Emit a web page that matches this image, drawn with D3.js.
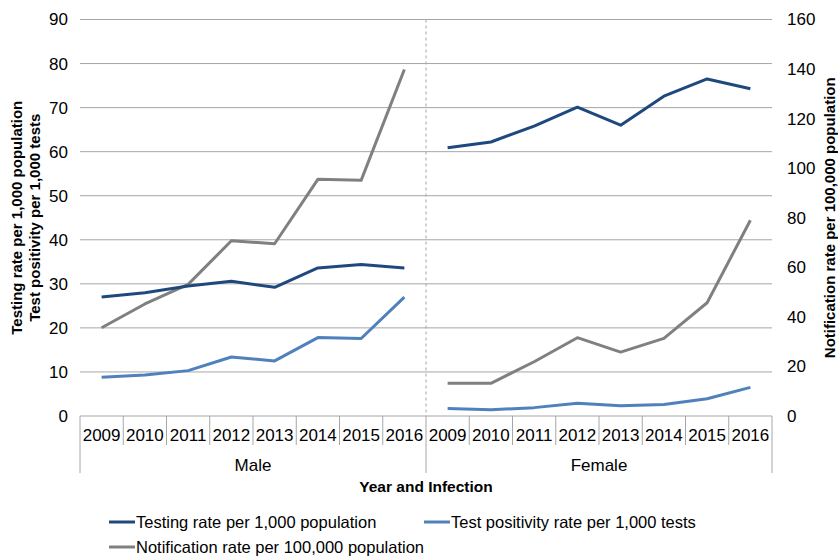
<!DOCTYPE html>
<html>
<head>
<meta charset="utf-8">
<script src="https://cdn.jsdelivr.net/npm/d3@7"></script>
<style>
  body { margin: 0; background: #fff; }
  text { font-family: "Liberation Sans", Arial, sans-serif; fill: #000; }
</style>
</head>
<body>
<div id="chart"></div>
<script>
// Dimensions
const width = 838;
const height = 558;
const margin = { top: 19.5, right: 66, bottom: 142, left: 80 };
const plotW = width - margin.left - margin.right;
const plotH = height - margin.top - margin.bottom;

// Données
const groups = ["Male", "Female"];
const years = ["2009", "2010", "2011", "2012", "2013", "2014", "2015", "2016"];
const leftTicks = [0, 10, 20, 30, 40, 50, 60, 70, 80, 90];
const rightTicks = [0, 20, 40, 60, 80, 100, 120, 140, 160];

// Taux de dépistage pour 1 000 habitants (axe gauche)
const testingMale = [27.0, 28.0, 29.5, 30.6, 29.2, 33.6, 34.4, 33.6];
const testingFemale = [60.9, 62.2, 65.8, 70.1, 66.0, 72.6, 76.5, 74.3];
// Taux de positivité pour 1 000 tests (axe gauche)
const positivityMale = [8.8, 9.3, 10.3, 13.4, 12.5, 17.8, 17.6, 27.0];
const positivityFemale = [1.7, 1.4, 1.9, 2.9, 2.3, 2.6, 3.9, 6.5];
// Taux de notification pour 100 000 habitants (axe droit)
const notificationMale = [35.6, 45.2, 53.1, 70.7, 69.5, 95.5, 95.1, 139.8];
const notificationFemale = [13.2, 13.2, 21.9, 31.6, 25.8, 31.3, 45.7, 79.0];

const seriesNames = [
  "Testing rate per 1,000 population",
  "Test positivity rate per 1,000 tests",
  "Notification rate per 100,000 population"
];
const colors = ["#1F497D", "#4F81BD", "#808080"];

// Catégories combinées (année + groupe)
const categories = [];
groups.forEach(g => years.forEach(y => categories.push(g + "|" + y)));

const svg = d3.select("#chart")
  .append("svg")
  .attr("width", width)
  .attr("height", height);

const g = svg.append("g")
  .attr("transform", `translate(${margin.left},${margin.top})`);

// Échelles
const x = d3.scaleBand().domain(categories).range([0, plotW]);
const yLeft = d3.scaleLinear().domain([0, 90]).range([plotH, 0]);
const yRight = d3.scaleLinear().domain([0, 160]).range([plotH, 0]);

// Quadrillage
g.append("g")
  .selectAll("line")
  .data(leftTicks.slice(1))
  .enter().append("line")
  .attr("x1", 0)
  .attr("x2", plotW)
  .attr("y1", d => yLeft(d))
  .attr("y2", d => yLeft(d))
  .attr("stroke", "#a6a6a6")
  .attr("stroke-width", 1);

// Séparateur pointillé entre les groupes
g.append("line")
  .attr("x1", x(categories[8]))
  .attr("x2", x(categories[8]))
  .attr("y1", 0)
  .attr("y2", plotH)
  .attr("stroke", "#a6a6a6")
  .attr("stroke-dasharray", "3,3");

// Axe gauche
const leftAxis = g.append("g")
  .call(d3.axisLeft(yLeft).tickValues(leftTicks).tickSize(0).tickPadding(12));
leftAxis.select(".domain").remove();
leftAxis.selectAll("text").attr("font-size", "17px").attr("fill", "#000");

// Axe droit
const rightAxis = g.append("g")
  .attr("transform", `translate(${plotW},0)`)
  .call(d3.axisRight(yRight).tickValues(rightTicks).tickSize(0).tickPadding(15));
rightAxis.select(".domain").remove();
rightAxis.selectAll("text").attr("font-size", "17px").attr("fill", "#000");

// Axe des catégories
g.append("line")
  .attr("x1", 0).attr("x2", plotW)
  .attr("y1", plotH).attr("y2", plotH)
  .attr("stroke", "#a6a6a6");

const tickPos = d3.range(categories.length + 1).map(i => i * x.bandwidth());
g.append("g")
  .selectAll("line")
  .data(tickPos)
  .enter().append("line")
  .attr("x1", d => d).attr("x2", d => d)
  .attr("y1", plotH)
  .attr("y2", (d, i) => (i % 8 === 0) ? plotH + 57 : plotH + 29)
  .attr("stroke", "#a6a6a6");

g.append("g")
  .selectAll("text")
  .data(categories)
  .enter().append("text")
  .attr("x", d => x(d) + x.bandwidth() / 2)
  .attr("y", plotH + 25)
  .attr("text-anchor", "middle")
  .attr("font-size", "17px")
  .text(d => d.split("|")[1]);

g.append("g")
  .selectAll("text")
  .data(groups)
  .enter().append("text")
  .attr("x", (d, i) => x(d + "|" + years[0]) + x.bandwidth() * years.length / 2)
  .attr("y", plotH + 55)
  .attr("text-anchor", "middle")
  .attr("font-size", "17px")
  .text(d => d);

// Titre de l'axe X
svg.append("text")
  .attr("x", margin.left + plotW / 2)
  .attr("y", 492)
  .attr("text-anchor", "middle")
  .attr("font-size", "15.5px")
  .attr("font-weight", "bold")
  .text("Year and Infection");

// Titres des axes Y
const midY = margin.top + plotH / 2;
const leftTitle = svg.append("text")
  .attr("transform", `translate(22,${midY}) rotate(-90)`)
  .attr("text-anchor", "middle")
  .attr("font-size", "15px")
  .attr("font-weight", "bold");
leftTitle.append("tspan").attr("x", 0).attr("dy", 0).text("Testing rate per 1,000 population");
leftTitle.append("tspan").attr("x", 0).attr("dy", 18).text("Test positivity per 1,000 tests");

svg.append("text")
  .attr("transform", `translate(835,${midY}) rotate(-90)`)
  .attr("text-anchor", "middle")
  .attr("font-size", "15px")
  .attr("font-weight", "bold")
  .text("Notification rate per 100,000 population");

// Lignes (une par groupe, interrompues entre Male et Female)
const lineLeft = d3.line()
  .x(d => x(d.key) + x.bandwidth() / 2)
  .y(d => yLeft(d.v));
const lineRight = d3.line()
  .x(d => x(d.key) + x.bandwidth() / 2)
  .y(d => yRight(d.v));

const toPoints = (group, values) => values.map((v, i) => ({ key: group + "|" + years[i], v }));

const lines = [
  { s: 2, gen: lineRight, pts: toPoints("Male", notificationMale) },
  { s: 2, gen: lineRight, pts: toPoints("Female", notificationFemale) },
  { s: 1, gen: lineLeft, pts: toPoints("Male", positivityMale) },
  { s: 1, gen: lineLeft, pts: toPoints("Female", positivityFemale) },
  { s: 0, gen: lineLeft, pts: toPoints("Male", testingMale) },
  { s: 0, gen: lineLeft, pts: toPoints("Female", testingFemale) }
];

g.append("g")
  .selectAll("path")
  .data(lines)
  .enter().append("path")
  .attr("d", d => d.gen(d.pts))
  .attr("fill", "none")
  .attr("stroke", d => colors[d.s])
  .attr("stroke-width", 3)
  .attr("stroke-linejoin", "round");

// Légende
const legendItems = [
  { s: 0, x: 109, y: 522 },
  { s: 1, x: 424, y: 522 },
  { s: 2, x: 109, y: 547 }
];
const legend = svg.append("g")
  .selectAll("g")
  .data(legendItems)
  .enter().append("g")
  .attr("transform", d => `translate(${d.x},${d.y})`);

legend.append("line")
  .attr("x1", 0).attr("x2", 26)
  .attr("y1", 0).attr("y2", 0)
  .attr("stroke", d => colors[d.s])
  .attr("stroke-width", 3);

legend.append("text")
  .attr("x", 27)
  .attr("y", 0)
  .attr("dy", "0.35em")
  .attr("font-size", "16.5px")
  .text(d => seriesNames[d.s]);
</script>
</body>
</html>
